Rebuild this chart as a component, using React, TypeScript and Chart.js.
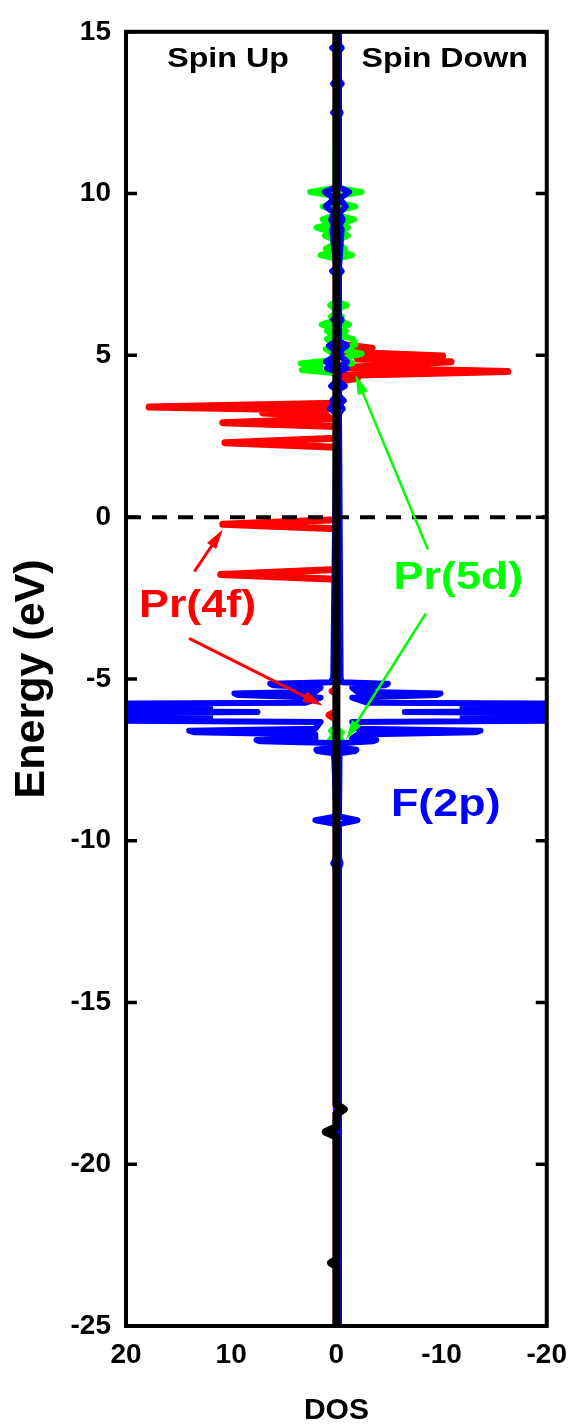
import React, { useEffect, useRef } from 'react';
import { Chart, registerables } from 'chart.js';

Chart.register(...registerables);

const FONT = '"Liberation Sans", Arial, Helvetica, sans-serif';

// ---- axes ----
const energyMin = -25;
const energyMax = 15;
const energyStep = 5;
const dosMin = -20;
const dosMax = 20;
const dosStep = 10;

// ---- zero line / total (black) ----
const blackE = [15, -18.15, -18.3, -18.45, -18.85, -19.0, -19.15, -22.95, -23.05, -23.15, -25];
const blackDos = [0, 0, -0.7, 0, 0, 1.0, 0, 0, 0.5, 0, 0];

// ---- Pr(4f) spin up / spin down ----
const red4fUpE = [15, 3.52, 3.40, 3.30, 3.22, 3.14, 3.04, 2.92, 2.80, 2.44, 2.30, 2.16, -0.08, -0.22, -0.36, -1.62, -1.77, -1.92, -5.30, -5.38, -5.45, -6.00, -6.12, -6.25, -25];
const red4fUpDos = [0, 0, 17.8, 1.0, 7.0, 1.0, 0.5, 10.8, 0, 0, 10.6, 0, 0, 10.8, 0, 0, 11.0, 0, 0, 0.4, 0, 0, 0.7, 0, 0];
const red4fDnE = [15, 5.36, 5.22, 5.10, 4.98, 4.89, 4.80, 4.62, 4.50, 4.38, 4.29, 4.18, -25];
const red4fDnDos = [0, 0, -3.4, -0.5, -10.1, -2.0, -10.9, -0.5, -16.3, -0.3, -2.0, 0, 0];

// ---- Pr(5d) spin up / spin down ----
const green5dUpE = [15, 10.17, 10.05, 9.93, 9.72, 9.6, 9.48, 9.32, 9.2, 9.08, 8.95, 8.82, 8.7, 8.58, 8.42, 8.3, 8.2, 8.1, 7.98, 6.67, 6.55, 6.43, 6.3, 6.2, 6.08, 5.95, 5.85, 5.75, 5.62, 5.5, 5.32, 5.2, 5.05, 4.85, 4.75, 4.65, 4.55, 4.45, -6.48, -6.6, -6.72, -6.9, -7.02, -25];
const green5dUpDos = [0, 0.1, 2.5, 0.2, 0.2, 1.3, 0.2, 0.2, 1.3, 0.4, 1.9, 0.4, 1.1, 0.3, 0.3, 1.0, 0.5, 1.5, 0, 0, 0.6, 0.1, 0.1, 0.5, 0.2, 1.4, 0.3, 0.9, 0.3, 0.9, 0.2, 1.0, 0.3, 0.5, 3.4, 1.5, 3.3, 0, 0, 0.5, 0.2, 0.6, 0, 0];
const green5dDnE = [15, 10.17, 10.05, 9.93, 9.72, 9.6, 9.48, 9.32, 9.2, 9.08, 8.95, 8.82, 8.7, 8.58, 8.42, 8.3, 8.2, 8.1, 7.98, 6.67, 6.55, 6.43, 6.3, 6.2, 6.08, 5.95, 5.85, 5.75, 5.62, 5.5, 5.33, 5.18, 5.05, 4.92, 4.75, 4.6, -6.52, -6.65, -6.78, -6.95, -7.08, -25];
const green5dDnDos = [0, -0.1, -2.4, -0.2, -0.2, -1.8, -0.2, -0.2, -1.7, -0.4, -1.1, -0.3, -1.1, -0.3, -0.3, -0.8, -0.4, -1.5, 0, 0, -1.0, -0.1, -0.1, -0.5, -0.2, -1.2, -0.3, -0.9, -0.3, -1.6, -1.8, -0.5, -2.4, -0.8, -1.5, 0, 0, -0.5, -0.2, -0.6, 0, 0];

// ---- F(2p) spin up / spin down (shared energy grid) ----
const blue2pE = [15, 14.6, 14.5, 14.4, 13.5, 13.4, 13.3, 12.6, 12.5, 12.4, 10.2, 10.05, 9.85, 9.6, 9.4, 9.2, 9.0, 8.9, 7.7, 7.6, 7.5, 6.2, 6.1, 6.0, 5.45, 5.3, 5.15, 4.95, 4.8, 4.7, 4.6, 4.5, 4.2, 4.05, 3.95, 3.75, 3.6, 3.5, 3.35, 3.2,
  -4.95, -5.10, -5.15, -5.20, -5.27, -5.40, -5.45, -5.50, -5.58,
  -5.74, -5.77, -5.84, -5.88, -5.92, -5.98, -6.02, -6.07, -6.14, -6.18, -6.22, -6.27, -6.33,
  -6.54, -6.60, -6.65, -6.72, -6.84, -6.89, -6.93, -6.98, -7.13, -7.19, -7.23, -7.30, -7.45,
  -9.25, -9.37, -9.49, -10.55, -10.7, -10.85, -25];
const blue2pUpDos = [0, 0, 0.4, 0, 0, 0.3, 0, 0, 0.3, 0, 0, 1.1, 0.2, 1.0, 0.2, 0.5, 0.2, 0.4, 0, 0.4, 0, 0, 0.3, 0, 0, 0.7, 0.2, 0.3, 1.0, 0.4, 0.9, 0, 0, 0.5, 0, 0, 0.4, 0.2, 0.6, 0,
  0.3, 0.5, 6.3, 6.0, 1.5, 2.0, 9.7, 9.3, 1.5,
  3.0, 30, 30, 12, 30, 30, 7.5, 30, 30, 12, 30, 30, 1.5,
  2.0, 14, 13.5, 2.0, 2.0, 7.6, 7.2, 0.5, 0.5, 1.9, 1.8, 0.3, 0.2,
  0, 2.0, 0, 0, 0.3, 0, 0];
const blue2pDnDos = [-0.25, -0.25, -0.5, -0.25, -0.25, -0.5, -0.25, -0.25, -0.4, -0.25, -0.25, -1.2, -0.3, -0.9, -0.3, -0.6, -0.3, -0.5, -0.25, -0.5, -0.25, -0.25, -0.5, -0.25, -0.25, -1.0, -0.4, -0.5, -1.0, -0.5, -1.0, -0.25, -0.25, -0.8, -0.25, -0.25, -0.7, -0.3, -0.6, -0.25,
  -0.4, -0.5, -4.9, -4.6, -1.5, -2.0, -9.9, -9.5, -1.5,
  -3.0, -30, -30, -12, -30, -30, -6.5, -30, -30, -12, -30, -30, -1.5,
  -2.0, -13.7, -13.2, -2.0, -1.5, -3.8, -3.5, -0.5, -0.5, -1.9, -1.8, -0.3, -0.25,
  -0.25, -2.0, -0.25, -0.25, -0.4, -0.25, -0.25];

// ---- Fermi level ----
const fermiE = [0, 0];
const fermiDos = [20, -20];

// ---- annotations (data coordinates: [DOS, Energy]) ----
const labelTexts = ['Spin Up', 'Spin Down', 'Pr(4f)', 'Pr(5d)', 'F(2p)'];
const labelAt = [[10.3, 14.15], [-10.3, 14.15], [13.2, -2.75], [-11.6, -1.9], [-10.4, -8.9]];
const labelColors = ['#000000', '#000000', '#ff0000', '#00ff00', '#0000ff'];
const labelSizes = [28, 28, 39, 39, 39];

const arrowFrom = [[13.5, -1.68], [14.0, -3.75], [-8.7, -1.0], [-8.5, -2.98]];
const arrowTo = [[10.8, -0.38], [1.3, -5.82], [-1.8, 4.4], [-0.9, -6.88]];
const arrowColors = ['#ff0000', '#ff0000', '#00ff00', '#00ff00'];

function pts(E: number[], D: number[]) {
  return E.map((e, i) => ({ x: D[i], y: e }));
}

const framePlugin = {
  id: 'frame',
  afterDatasetsDraw(chart: any) {
    const { ctx, chartArea } = chart;
    const { left, right, top, bottom } = chartArea;
    const ys = chart.scales.y;
    ctx.save();
    ctx.strokeStyle = '#000';
    ctx.lineWidth = 4;
    ctx.strokeRect(left, top, right - left, bottom - top);
    ctx.lineWidth = 3.5;
    for (let v = energyMin; v <= energyMax; v += energyStep) {
      const py = ys.getPixelForValue(v);
      ctx.beginPath();
      ctx.moveTo(left, py);
      ctx.lineTo(left + 11, py);
      ctx.moveTo(right, py);
      ctx.lineTo(right - 11, py);
      ctx.stroke();
    }
    ctx.restore();
  },
};

const annoPlugin = {
  id: 'anno',
  afterDraw(chart: any) {
    const { ctx } = chart;
    const xs = chart.scales.x;
    const ys = chart.scales.y;
    ctx.save();
    arrowFrom.forEach((f, i) => {
      const x1 = xs.getPixelForValue(f[0]);
      const y1 = ys.getPixelForValue(f[1]);
      const x2 = xs.getPixelForValue(arrowTo[i][0]);
      const y2 = ys.getPixelForValue(arrowTo[i][1]);
      const ang = Math.atan2(y2 - y1, x2 - x1);
      const hl = 20;
      const hw = 5.5;
      const c = Math.cos(ang);
      const s = Math.sin(ang);
      const bx = x2 - hl * c;
      const by = y2 - hl * s;
      ctx.strokeStyle = arrowColors[i];
      ctx.fillStyle = arrowColors[i];
      ctx.lineWidth = i < 2 ? 3 : 2.5;
      ctx.beginPath();
      ctx.moveTo(x1, y1);
      ctx.lineTo(bx + 2 * c, by + 2 * s);
      ctx.stroke();
      ctx.beginPath();
      ctx.moveTo(x2, y2);
      ctx.lineTo(bx + hw * s, by - hw * c);
      ctx.lineTo(bx - hw * s, by + hw * c);
      ctx.closePath();
      ctx.fill();
    });
    labelTexts.forEach((t, i) => {
      const px = xs.getPixelForValue(labelAt[i][0]);
      const py = ys.getPixelForValue(labelAt[i][1]);
      ctx.save();
      ctx.translate(px, py);
      ctx.scale(1.15, 1);
      ctx.font = `bold ${labelSizes[i]}px ${FONT}`;
      ctx.fillStyle = labelColors[i];
      ctx.textAlign = 'center';
      ctx.textBaseline = 'middle';
      ctx.fillText(t, 0, 0);
      ctx.restore();
    });
    ctx.restore();
  },
};

function series(label: string, E: number[], D: number[], color: string, width: number, order: number, extra: any = {}) {
  return {
    label,
    data: pts(E, D),
    showLine: true,
    borderColor: color,
    backgroundColor: color,
    borderWidth: width,
    pointRadius: 0,
    fill: false,
    clip: 0,
    order,
    ...extra,
  };
}

export default function App() {
  const ref = useRef<HTMLCanvasElement>(null);
  useEffect(() => {
    document.body.style.margin = '0';
    const canvas = ref.current!;
    const tickFont = { family: FONT, size: 28, weight: 'bold' as const };
    const chart = new Chart(canvas, {
      type: 'scatter',
      data: {
        datasets: [
          series('Total', blackE, blackDos, '#000000', 8, 1),
          series('Fermi', fermiE, fermiDos, '#000000', 4, 2, { borderDash: [15, 11], borderCapStyle: 'butt' }),
          series('F(2p) up', blue2pE, blue2pUpDos, '#0000ff', 6, 3),
          series('F(2p) down', blue2pE, blue2pDnDos, '#0000ff', 6, 3),
          series('Pr(5d) up', green5dUpE, green5dUpDos, '#00ff00', 6, 4),
          series('Pr(5d) down', green5dDnE, green5dDnDos, '#00ff00', 6, 4),
          series('Pr(4f) up', red4fUpE, red4fUpDos, '#ff0000', 7, 5),
          series('Pr(4f) down', red4fDnE, red4fDnDos, '#ff0000', 7, 5),
        ] as any,
      },
      options: {
        animation: false,
        responsive: false,
        devicePixelRatio: 1,
        events: [],
        layout: { padding: { top: 31, right: 27, left: 0, bottom: 0 } },
        plugins: { legend: { display: false }, tooltip: { enabled: false } },
        elements: {
          point: { radius: 0 },
          line: { tension: 0, borderCapStyle: 'round', borderJoinStyle: 'round' },
        },
        scales: {
          x: {
            type: 'linear',
            position: 'bottom',
            min: dosMin,
            max: dosMax,
            reverse: true,
            afterFit: (s: any) => { s.height = 101; },
            grid: { display: false, drawTicks: false },
            border: { display: false },
            ticks: { stepSize: dosStep, padding: 12, color: '#000', font: tickFont, maxRotation: 0 },
            title: {
              display: true, text: 'DOS', color: '#000',
              font: { family: FONT, size: 30, weight: 'bold', lineHeight: 1 },
              padding: { top: 0, bottom: 1 },
            },
          },
          y: {
            type: 'linear',
            position: 'left',
            min: energyMin,
            max: energyMax,
            afterFit: (s: any) => { s.width = 126; },
            grid: { display: false, drawTicks: false },
            border: { display: false },
            ticks: { stepSize: energyStep, padding: 15, color: '#000', font: tickFont },
            title: {
              display: true, text: 'Energy (eV)', color: '#000',
              font: { family: FONT, size: 43, weight: 'bold', lineHeight: 1 },
              padding: { top: 11, bottom: 0 },
            },
          },
        },
      } as any,
      plugins: [framePlugin, annoPlugin],
    });
    return () => chart.destroy();
  }, []);
  return (
    <div style={{ width: 579, height: 1427 }}>
      <canvas ref={ref} width={579} height={1427} style={{ display: 'block' }} />
    </div>
  );
}
